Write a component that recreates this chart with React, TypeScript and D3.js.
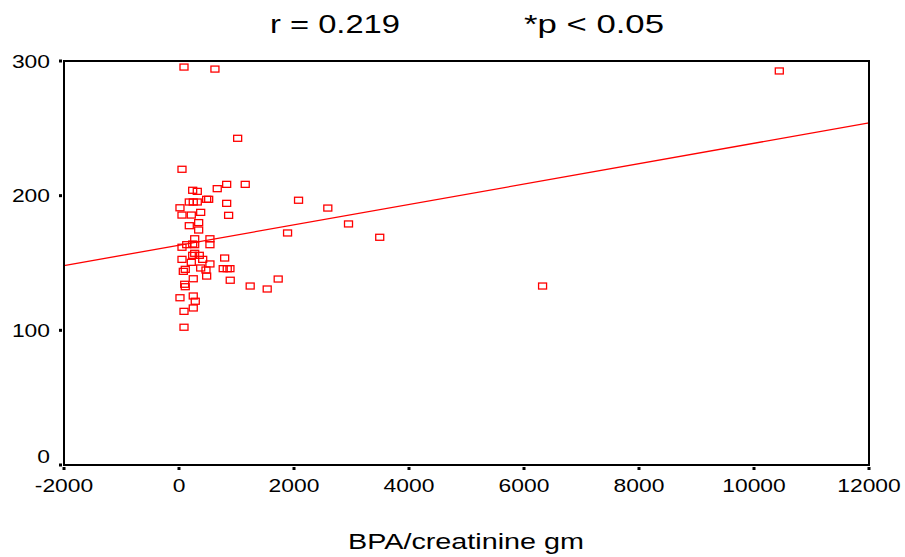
import React from 'react';
import { scaleLinear, line } from 'd3';

// values (BPA/creatinine gm vs. outcome)
const bpa = [
  87, 625, 10440, 1020, 52, 238, 318, 665, 829, 1152,
  179, 248, 318, 481, 516, 17, 829, 52, 214, 377,
  863, 342, 179, 342, 273, 538, 52, 134, 238, 273,
  538, 273, 238, 353, 52, 412, 794, 214, 538, 109,
  75, 377, 469, 769, 839, 886, 481, 248, 891, 99,
  109, 1238, 1534, 1725, 17, 248, 283, 87, 248, 87,
  2079, 2588, 2948, 1888, 3491, 6323
];
const outcome = [
  295.5, 294, 292.6, 242.6, 219.6, 204, 203.2, 205.2, 208.4, 208.4,
  195.3, 195.3, 195.3, 197.3, 197.3, 191, 194.3, 185.6, 185.6, 187.6,
  185.4, 180, 177.7, 174.5, 168, 168, 161.7, 163.6, 164.1, 163.6,
  163.6, 157.2, 155.7, 155.7, 152.7, 152.7, 153.7, 150.5, 149.3, 145.3,
  143.8, 146.3, 144.8, 145.8, 145.8, 145.8, 140.3, 138.3, 137.2, 134.2,
  132.4, 132.9, 130.7, 138.1, 124.2, 125.5, 121.6, 114.1, 116.6, 102.3,
  196.6, 190.8, 179, 172.3, 169.1, 132.9
];

const xTicks = [-2000, 0, 2000, 4000, 6000, 8000, 10000, 12000];
const yTicks = [0, 100, 200, 300];

// fitted line shown on the chart
const fitIntercept = 163.2;
const fitSlope = 0.00757;

const titleLeft = 'r = 0.219';
const titleRight = '*p < 0.05';
const xTitle = 'BPA/creatinine gm';

const FONT = '"Liberation Sans", Arial, sans-serif';
const RED = '#ff0000';
const STRETCH = 1.27;

export default function App() {
  const width = 905;
  const height = 557;
  const left = 64, right = 869, top = 61, bottom = 465;

  const x = scaleLinear().domain([-2000, 12000]).range([left, right]);
  const y = scaleLinear().domain([0, 300]).range([bottom, top]);

  const points = bpa.map((v, i) => ({ x: v, y: outcome[i] }));
  const fit = line<number>()
    .x(d => x(d))
    .y(d => y(fitIntercept + fitSlope * d));

  return (
    <div style={{ position: 'absolute', left: 0, top: 0 }}>
      <svg width={width} height={height} style={{ display: 'block', background: '#fff' }}>
        {/* titles */}
        <text x={270} y={33} fontFamily={FONT} fontSize={25} textLength={130}
          lengthAdjust="spacingAndGlyphs">{titleLeft}</text>
        <text x={524} y={33} fontFamily={FONT} fontSize={25} textLength={140}
          lengthAdjust="spacingAndGlyphs">{titleRight}</text>

        {/* points */}
        {points.map((p, i) => (
          <rect key={i} x={x(p.x) - 4} y={y(p.y) - 3} width={8} height={6}
            fill="none" stroke={RED} strokeWidth={1.3} />
        ))}

        {/* fit line */}
        <path d={fit(x.domain()) || ''} fill="none" stroke={RED} strokeWidth={1.3} />

        {/* frame */}
        <rect x={left} y={top} width={right - left} height={bottom - top}
          fill="none" stroke="#000" strokeWidth={2} />

        {/* y axis ticks */}
        {yTicks.map(t => (
          <g key={t}>
            <rect x={left - 5} y={y(t) - 1.5} width={3} height={3} fill="#000" />
            <text transform={`translate(50,${t === 0 ? y(t) - 2 : y(t) + 6.5}) scale(${STRETCH},1)`}
              textAnchor="end" fontFamily={FONT} fontSize={18}>{t}</text>
          </g>
        ))}

        {/* x axis ticks */}
        {xTicks.map(t => (
          <g key={t}>
            <rect x={x(t) - 1.5} y={bottom + 2} width={3} height={3} fill="#000" />
            <text transform={`translate(${x(t)},492) scale(${STRETCH},1)`}
              textAnchor="middle" fontFamily={FONT} fontSize={18}>{t}</text>
          </g>
        ))}

        <text x={348} y={549} fontFamily={FONT} fontSize={22} textLength={236}
          lengthAdjust="spacingAndGlyphs">{xTitle}</text>
      </svg>
    </div>
  );
}
